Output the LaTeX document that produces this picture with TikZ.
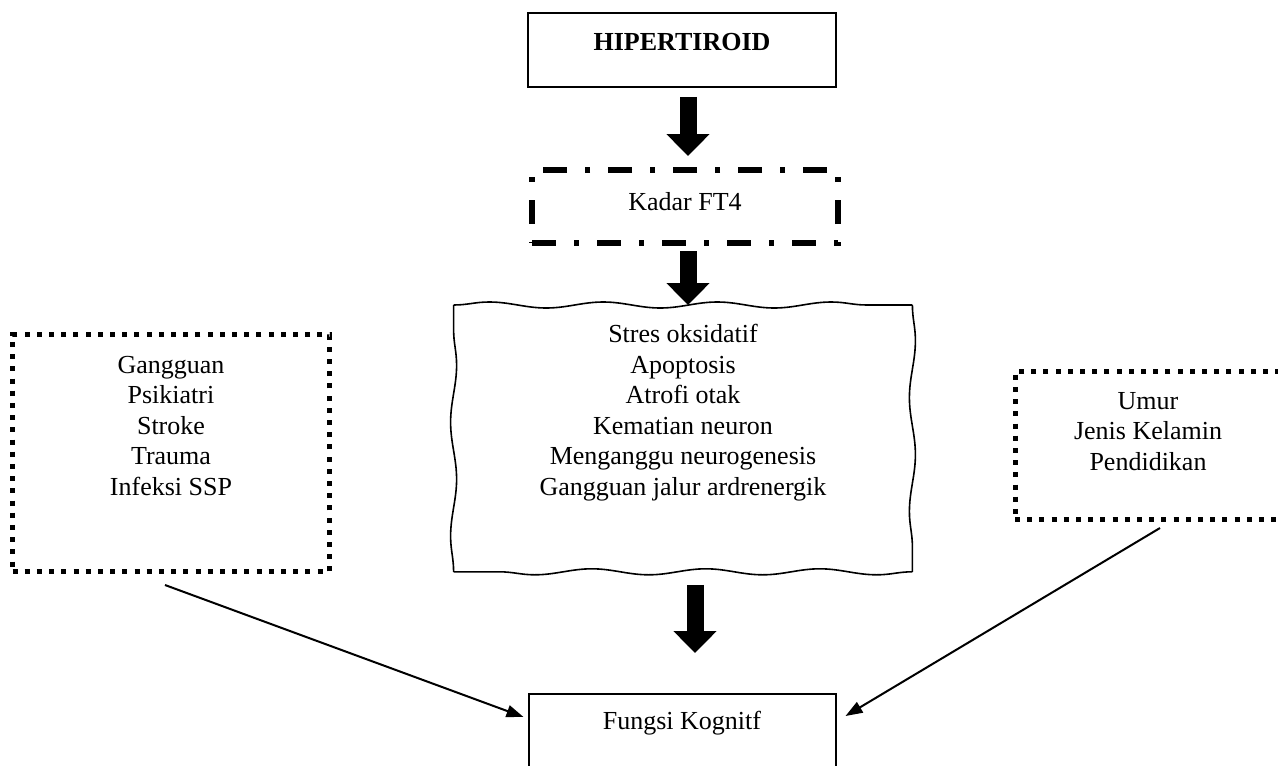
\documentclass[tikz,border=0pt]{standalone}
\usepackage{fontspec}
\setmainfont{Liberation Serif}
\usetikzlibrary{arrows.meta, decorations.pathmorphing}

\begin{document}
\begin{tikzpicture}[x=0.5pt, y=-0.5pt,
    every node/.style={font=\fontsize{13pt}{15.3pt}\selectfont, align=center, anchor=north, inner xsep=0pt, inner ysep=5pt},
    solidbox/.style={draw, line width=1pt},
    dotbox/.style={draw, line width=2.5pt, dash pattern=on 2.5pt off 3.6pt},
    dashdotbox/.style={draw, line width=3pt, dash pattern=on 12pt off 9pt on 2.5pt off 9pt},
    wavyline/.style={line width=0.8pt, decorate, decoration={snake, segment length=57pt, amplitude=1.5pt}},
    bigarrow/.style={line width=8.5pt, -{Triangle[length=11pt, width=21pt]}},
    thinarrow/.style={line width=1pt, -{Triangle[length=8.5pt, width=6pt]}}
  ]
    \useasboundingbox (0,0) rectangle (1278,765);

    % Main chain
    \node[solidbox, minimum width=154pt, text height=14pt, text depth=13pt] (hipertiroid) at (682,12) {\textbf{HIPERTIROID}};
    \node[dashdotbox, minimum width=153pt, text height=15pt, text depth=11.5pt] (kadar) at (685,167) {Kadar FT4};
    \node[minimum width=229pt, text height=90pt, text depth=33pt] (mekanisme) at (683,305)
        {Stres oksidatif\\ Apoptosis\\ Atrofi otak\\ Kematian neuron\\ Menganggu neurogenesis\\ Gangguan jalur ardrenergik};
    \foreach \a/\b in {north west/north east, north east/south east, south east/south west, south west/north west}
        \draw[wavyline] (mekanisme.\a) -- (mekanisme.\b);
    \node[solidbox, minimum width=153.5pt, text height=12.5pt, text depth=35pt] (kognitif) at (682,693) {Fungsi Kognitf};

    % Side factors
    \node[dotbox, minimum width=158.5pt, text height=75.5pt, text depth=33pt] (gangguan) at (171,332)
        {Gangguan\\ Psikiatri\\ Stroke\\ Trauma\\ Infeksi SSP};
    \node[dotbox, minimum width=133pt, text height=44.5pt, text depth=19.5pt] (demografi) at (1148,369)
        {Umur\\ Jenis Kelamin\\ Pendidikan};

    % Arrows
    \draw[bigarrow, shorten <=4.5pt, shorten >=5.5pt] ([xshift=3pt]hipertiroid.south) -- ([xshift=1.5pt]kadar.north);
    \draw[bigarrow, shorten <=2.5pt] ([xshift=1.5pt]kadar.south) -- ([xshift=2.5pt]mekanisme.north);
    \draw[bigarrow, shorten <=6.5pt, shorten >=20pt] ([xshift=6pt]mekanisme.south) -- ([xshift=6.5pt]kognitif.north);
    \draw[thinarrow] ([xshift=-3pt, yshift=-5.5pt]gangguan.south) -- ([xshift=-2pt, yshift=-12pt]kognitif.north west);
    \draw[thinarrow] ([xshift=6pt, yshift=-3pt]demografi.south) -- ([xshift=4.5pt, yshift=-11.5pt]kognitif.north east);
  \end{tikzpicture}
\end{document}
